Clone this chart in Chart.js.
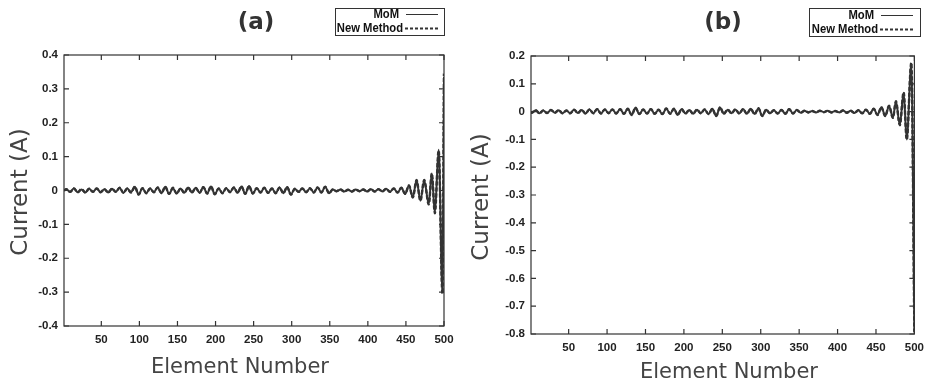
<!DOCTYPE html>
<html>
<head>
<meta charset="utf-8">
<script src="https://cdn.jsdelivr.net/npm/chart.js@4.4.1/dist/chart.umd.min.js"></script>
<style>
  body { margin: 0; background: #fff; width: 931px; height: 385px; position: relative; overflow: hidden; }
  canvas { position: absolute; top: 0; }
</style>
</head>
<body>
<canvas id="chartA" width="465" height="385" style="left:0"></canvas>
<canvas id="chartB" width="465" height="385" style="left:466px"></canvas>
<script>
// ---------- data ----------
const xTicks = [50, 100, 150, 200, 250, 300, 350, 400, 450, 500]
const yTicksA = [-0.4, -0.3, -0.2, -0.1, 0, 0.1, 0.2, 0.3, 0.4]
const yTicksB = [-0.8, -0.7, -0.6, -0.5, -0.4, -0.3, -0.2, -0.1, 0, 0.1, 0.2]

// panel (a)
const elementsA = [1,
  4, 9, 14, 19, 24, 29, 34, 39, 44, 49,
  54, 59, 64, 69, 74, 79, 84, 89, 94, 99,
  104, 109, 114, 119, 124, 129, 134, 139, 144, 149,
  154, 159, 164, 169, 174, 179, 184, 189, 194, 199,
  204, 209, 214, 219, 224, 229, 234, 239, 244, 249,
  254, 259, 264, 269, 274, 279, 284, 289, 294, 299,
  304, 309, 314, 319, 324, 329, 334, 339, 344, 349,
  354, 359, 364, 369, 374, 379, 384, 389, 394, 399,
  404, 409, 414, 419, 424, 429, 434, 439,
  444, 449, 454, 459, 464, 469, 474, 480, 484, 488, 493, 498, 500]
const momA = [0.000,
  0.004, -0.004, 0.006, -0.005, 0.003, -0.006, 0.005, -0.004, 0.006, -0.005,
  0.004, -0.006, 0.005, -0.004, 0.008, -0.007, 0.006, -0.005, 0.011, -0.012,
  0.007, -0.008, 0.006, -0.005, 0.009, -0.008, 0.011, -0.010, 0.007, -0.009,
  0.006, -0.007, 0.009, -0.006, 0.008, -0.007, 0.010, -0.009, 0.012, -0.011,
  0.006, -0.008, 0.007, -0.005, 0.009, -0.007, 0.012, -0.010, 0.013, -0.009,
  0.007, -0.006, 0.008, -0.007, 0.006, -0.008, 0.009, -0.008, 0.010, -0.012,
  0.005, -0.004, 0.006, -0.005, 0.007, -0.006, 0.009, -0.006, 0.011, -0.008,
  0.003, -0.002, 0.003, -0.003, 0.002, -0.003, 0.003, -0.002, 0.003, -0.003,
  0.004, -0.003, 0.004, -0.003, 0.005, -0.004, 0.006, -0.006,
  0.008, -0.010, 0.015, -0.020, 0.030, -0.030, 0.030, -0.040, 0.050, -0.066, 0.120, -0.300, 0.335]
const newA = [0.000,
  0.004, -0.004, 0.006, -0.005, 0.004, -0.006, 0.005, -0.004, 0.006, -0.005,
  0.004, -0.006, 0.005, -0.004, 0.008, -0.007, 0.006, -0.006, 0.011, -0.012,
  0.007, -0.008, 0.006, -0.005, 0.009, -0.008, 0.011, -0.010, 0.008, -0.009,
  0.006, -0.007, 0.009, -0.006, 0.008, -0.007, 0.010, -0.009, 0.012, -0.011,
  0.006, -0.008, 0.007, -0.005, 0.009, -0.007, 0.012, -0.010, 0.013, -0.009,
  0.007, -0.006, 0.008, -0.007, 0.006, -0.008, 0.009, -0.008, 0.010, -0.012,
  0.005, -0.004, 0.006, -0.005, 0.007, -0.006, 0.009, -0.006, 0.011, -0.008,
  0.003, -0.002, 0.003, -0.003, 0.002, -0.003, 0.003, -0.002, 0.003, -0.003,
  0.004, -0.003, 0.004, -0.003, 0.005, -0.004, 0.006, -0.006,
  0.008, -0.010, 0.015, -0.021, 0.031, -0.030, 0.031, -0.041, 0.050, -0.067, 0.118, -0.305, 0.345]

// panel (b)
const elementsB = [1,
  2, 7, 12, 17, 22, 27, 32, 37, 42, 47,
  52, 57, 62, 67, 72, 77, 82, 87, 92, 97,
  102, 107, 112, 117, 122, 127, 132, 137, 142, 147,
  152, 157, 162, 167, 172, 177, 182, 187, 192, 197,
  202, 207, 212, 217, 222, 227, 232, 237, 242, 247,
  252, 257, 262, 267, 272, 277, 282, 287, 292, 297,
  302, 307, 312, 317, 322, 327, 332, 337, 342, 347,
  352, 357, 362, 367, 372, 377, 382, 387, 392, 397,
  402, 407, 412, 417, 422, 427, 432, 437, 442,
  447, 452, 457, 462, 467, 472, 476, 481, 486, 490, 496, 500]
const momB = [0.000,
  -0.004, 0.005, -0.006, 0.004, -0.005, 0.006, -0.004, 0.005, -0.006, 0.004,
  -0.006, 0.007, -0.005, 0.006, -0.007, 0.008, -0.006, 0.009, -0.007, 0.008,
  -0.006, 0.008, -0.007, 0.009, -0.008, 0.010, -0.012, 0.014, -0.009, 0.008,
  -0.007, 0.009, -0.008, 0.007, -0.009, 0.011, -0.008, 0.010, -0.012, 0.009,
  -0.007, 0.006, -0.008, 0.007, -0.006, 0.008, -0.009, 0.010, -0.016, 0.015,
  -0.008, 0.007, -0.006, 0.008, -0.007, 0.009, -0.008, 0.010, -0.009, 0.012,
  -0.016, 0.007, -0.006, 0.005, -0.007, 0.006, -0.008, 0.009, -0.007, 0.006,
  -0.004, 0.003, -0.003, 0.002, -0.003, 0.003, -0.002, 0.003, -0.003, 0.002,
  -0.003, 0.004, -0.004, 0.003, -0.005, 0.005, -0.006, 0.007, -0.008,
  0.010, -0.012, 0.016, -0.015, 0.020, -0.022, 0.036, -0.048, 0.068, -0.100, 0.172, -0.790]
const newB = [0.000,
  -0.004, 0.005, -0.006, 0.004, -0.005, 0.006, -0.004, 0.005, -0.006, 0.004,
  -0.006, 0.007, -0.005, 0.006, -0.007, 0.008, -0.006, 0.009, -0.007, 0.008,
  -0.006, 0.008, -0.007, 0.009, -0.008, 0.010, -0.012, 0.014, -0.009, 0.008,
  -0.007, 0.009, -0.008, 0.007, -0.009, 0.011, -0.008, 0.010, -0.012, 0.009,
  -0.007, 0.006, -0.008, 0.007, -0.006, 0.008, -0.009, 0.010, -0.016, 0.015,
  -0.008, 0.007, -0.006, 0.008, -0.007, 0.009, -0.008, 0.010, -0.009, 0.012,
  -0.016, 0.007, -0.006, 0.005, -0.007, 0.006, -0.008, 0.009, -0.007, 0.006,
  -0.004, 0.003, -0.003, 0.002, -0.003, 0.003, -0.002, 0.003, -0.003, 0.002,
  -0.003, 0.004, -0.004, 0.003, -0.005, 0.005, -0.006, 0.007, -0.008,
  0.010, -0.012, 0.016, -0.016, 0.021, -0.022, 0.037, -0.049, 0.069, -0.101, 0.176, -0.800]

// ---------- frame, inward ticks, titles and legend ----------
const framePlugin = {
  id: 'frame',
  afterDraw(chart, args, o) {
    const {ctx, chartArea: a} = chart
    const x = chart.scales.x, y = chart.scales.y
    ctx.save()
    ctx.strokeStyle = '#333'
    ctx.lineWidth = 1.2
    ctx.strokeRect(a.left, a.top, a.right - a.left, a.bottom - a.top)
    ctx.beginPath()
    x.ticks.forEach(t => {
      let px = x.getPixelForValue(t.value)
      ctx.moveTo(px, a.bottom); ctx.lineTo(px, a.bottom - 5)
      ctx.moveTo(px, a.top); ctx.lineTo(px, a.top + 5)
    })
    y.ticks.forEach(t => {
      let py = y.getPixelForValue(t.value)
      ctx.moveTo(a.left, py); ctx.lineTo(a.left + 5, py)
      ctx.moveTo(a.right, py); ctx.lineTo(a.right - 5, py)
    })
    ctx.stroke()

    // panel title
    ctx.fillStyle = '#333'
    ctx.textAlign = 'center'
    ctx.textBaseline = 'middle'
    ctx.font = 'bold 23px "DejaVu Sans"'
    ctx.fillText(o.text, o.titleX, 23)

    // axis titles
    ctx.fillStyle = '#444'
    ctx.font = '21px "DejaVu Sans"'
    ctx.fillText('Element Number', o.xTitle[0], o.xTitle[1])
    ctx.save()
    ctx.translate(o.yTitle[0], o.yTitle[1])
    ctx.rotate(-Math.PI / 2)
    ctx.font = '23px "DejaVu Sans"'
    ctx.fillText('Current (A)', 0, 0)
    ctx.restore()

    // legend box, gnuplot style
    const L = o.legend
    ctx.strokeStyle = '#333'
    ctx.lineWidth = 1
    ctx.strokeRect(L.left + 0.5, L.top + 0.5, L.right - L.left, L.bottom - L.top)
    ctx.textAlign = 'right'
    ctx.fillStyle = '#111'
    chart.data.datasets.forEach((ds, i) => {
      let yy = L.rows[i]
      ctx.save()
      ctx.translate(L.textRight[i], yy)
      ctx.scale(0.9, 1)
      ctx.font = 'bold 12.5px "Liberation Sans"'
      ctx.fillText(ds.label, 0, 0)
      ctx.restore()
      ctx.setLineDash(i ? [3, 2] : [])
      ctx.lineWidth = i ? 2 : 1
      ctx.beginPath()
      ctx.moveTo(L.lineStart[i], yy); ctx.lineTo(L.lineEnd, yy)
      ctx.stroke()
    })
    ctx.restore()
  }
}

const tickFont = {family: '"Liberation Sans", Arial, sans-serif', size: 11.5, weight: 'bold'}

function makePanel(id, elements, mom, nw, yTicks, lay, deco) {
  let ctx = document.getElementById(id).getContext('2d')
  return new Chart(ctx, {
    type: 'line',
    data: {
      datasets: [
        {
          label: 'MoM',
          data: elements.map((e, i) => ({x: e, y: mom[i]})),
          borderColor: '#333',
          borderWidth: 2,
          pointRadius: 0,
          cubicInterpolationMode: 'monotone',
        },
        {
          label: 'New Method',
          data: elements.map((e, i) => ({x: e, y: nw[i]})),
          borderColor: '#333',
          borderWidth: 2.4,
          borderDash: [4, 2],
          pointRadius: 0,
          cubicInterpolationMode: 'monotone',
        },
      ],
    },
    options: {
      responsive: false,
      animation: false,
      layout: {padding: {left: 0, top: lay.top, right: lay.right, bottom: 0}},
      plugins: {
        legend: {display: false},
        tooltip: {enabled: false},
        frame: deco,
      },
      scales: {
        x: {
          type: 'linear',
          min: 1,
          max: 500,
          afterBuildTicks: s => { s.ticks = xTicks.map(v => ({value: v})) },
          afterFit: s => { s.height = lay.xh },
          grid: {display: false, drawTicks: false},
          border: {display: false},
          ticks: {font: tickFont, color: '#222', padding: 7, maxRotation: 0, autoSkip: false,
                  callback: v => String(v)},
        },
        y: {
          type: 'linear',
          min: yTicks[0],
          max: yTicks[yTicks.length - 1],
          afterBuildTicks: s => { s.ticks = yTicks.map(v => ({value: v})) },
          afterFit: s => { s.width = lay.yw },
          grid: {display: false, drawTicks: false},
          border: {display: false},
          ticks: {font: tickFont, color: '#222', padding: 6, autoSkip: false,
                  callback: v => v === 0 ? '0' : v.toFixed(1)},
        },
      },
    },
    plugins: [framePlugin],
  })
}

makePanel('chartA', elementsA, momA, newA, yTicksA,
  {top: 55, right: 21, xh: 59, yw: 64},
  {text: '(a)', titleX: 256, xTitle: [240, 368], yTitle: [21, 192],
   legend: {left: 335, top: 8, right: 444, bottom: 35, textRight: [399, 403], rows: [14.5, 28.5], lineStart: [406, 405], lineEnd: 438}})

makePanel('chartB', elementsB, momB, newB, yTicksB,
  {top: 56, right: 11, xh: 51, yw: 65},
  {text: '(b)', titleX: 257, xTitle: [263, 373], yTitle: [16, 197],
   legend: {left: 343, top: 8, right: 454, bottom: 36, textRight: [408, 412], rows: [15.5, 29.5], lineStart: [415, 414], lineEnd: 447}})
</script>
</body>
</html>
